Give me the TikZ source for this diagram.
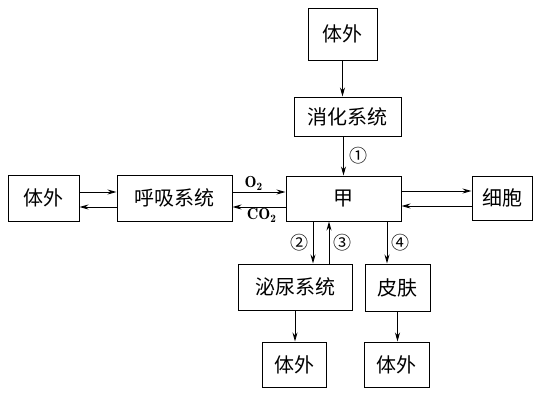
\documentclass[tikz,border=0pt]{standalone}
\usepackage{fontspec}
\usepackage{tikz}
\usetikzlibrary{positioning, arrows.meta, calc}
\newfontfamily\cjk{Noto Sans CJK SC}

\begin{document}
\begin{tikzpicture}[x=1pt, y=-1pt]
				\tikzset{organ/.style={rectangle, draw, line width=1pt, inner sep=0pt, font=\cjk\fontsize{20}{24}\selectfont}}
				\tikzset{arr/.style={-{Stealth[length=9pt, width=5pt]}, line width=0.9pt}}
				\tikzset{num/.style={font=\cjk\fontsize{18}{20}\selectfont}}
				\tikzset{gas/.style={font=\fontsize{16}{18}\selectfont, inner sep=1pt}}
				\useasboundingbox (0,0) rectangle (539,400);

				\node[organ, minimum width=69pt, minimum height=52pt] (tiwaiA) at (342.5,34) {体外};
				\node[organ, minimum width=107pt, minimum height=39pt] (xiaohua) at (347.5,116.5) {消化系统};
				\node[organ, minimum width=115pt, minimum height=45pt] (jia) at (343.5,198.5) {甲};
				\node[organ, minimum width=60pt, minimum height=44pt] (xibao) at (502,198) {细胞};
				\node[organ, minimum width=71pt, minimum height=46pt] (tiwaiB) at (43.5,198) {体外};
				\node[organ, minimum width=115pt, minimum height=46pt] (huxi) at (174.5,198) {呼吸系统};
				\node[organ, minimum width=114pt, minimum height=46pt] (miniao) at (295,287) {泌尿系统};
				\node[organ, minimum width=65pt, minimum height=47pt] (pifu) at (397.5,287.5) {皮肤};
				\node[organ, minimum width=64pt, minimum height=45pt] (tiwaiC) at (294,364.5) {体外};
				\node[organ, minimum width=65pt, minimum height=45pt] (tiwaiD) at (396.5,364.5) {体外};

				% intake
				\draw[arr] (tiwaiA.south) -- (tiwaiA.south |- xiaohua.north);
				\draw[arr] (jia |- xiaohua.south) -- node[num, right=2pt] {①} (jia.north);

				% breathing
				\draw[arr] ([yshift=6pt]tiwaiB.east) -- ([yshift=6pt]huxi.west);
				\draw[arr] ([yshift=-9pt]huxi.west) -- ([yshift=-9pt]tiwaiB.east);
				\draw[arr] ([yshift=6pt]huxi.east) -- node[gas, above, pos=0.4] {$\mathbf{O_2}$} ([yshift=6pt]huxi.east -| jia.west);
				\draw[arr] ([yshift=-8.5pt]jia.west) -- node[gas, below, pos=0.45] {$\mathbf{CO_2}$} ([yshift=-8.5pt]jia.west -| huxi.east);

				% cells
				\draw[arr] ([yshift=7.5pt]jia.east) -- ([yshift=7.5pt]jia.east -| xibao.west);
				\draw[arr] ([yshift=-7.5pt]jia.east -| xibao.west) -- ([yshift=-7.5pt]jia.east);

				% output
				\draw[arr] ([xshift=-30.5pt]jia.south) -- node[num, left=1pt] {②} ([xshift=-30.5pt]jia.south |- miniao.north);
				\draw[arr] ([xshift=-14.5pt]jia.south |- miniao.north) -- node[num, right=1pt] {③} ([xshift=-14.5pt]jia.south);
				\draw[arr] ([xshift=43.5pt]jia.south) -- node[num, right=1pt] {④} ([xshift=43.5pt]jia.south |- pifu.north);
				\draw[arr] (miniao.south) -- (miniao.south |- tiwaiC.north);
				\draw[arr] (pifu.south) -- (pifu.south |- tiwaiD.north);
			\end{tikzpicture}
\end{document}
